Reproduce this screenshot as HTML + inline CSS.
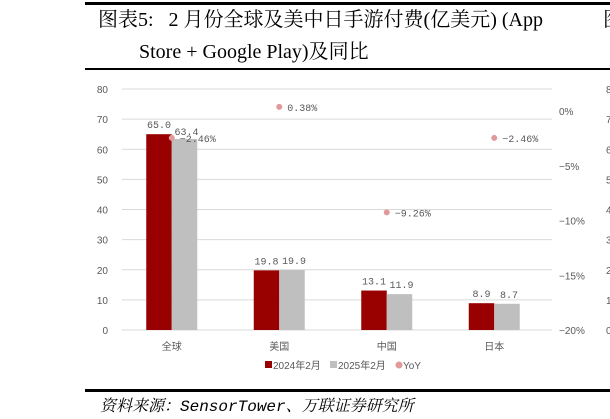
<!DOCTYPE html>
<html><head><meta charset="utf-8"><style>
body{margin:0;width:610px;height:419px;background:#fff;overflow:hidden;position:relative;font-family:"Liberation Serif","Noto Serif CJK SC",serif}
.t{position:absolute;white-space:nowrap}
</style></head><body>
<div style="position:absolute;left:85px;top:2px;width:525px;height:3px;background:#000"></div>
<div class="t" style="left:98px;top:9px;font-size:20px;line-height:22px">图表5:&nbsp;&nbsp;&nbsp;2 月份全球及美中日手游付费(亿美元) (App</div>
<div class="t" style="left:139px;top:41px;font-size:20px;line-height:22px">Store + Google Play)及同比</div>
<div class="t" style="left:603px;top:9px;font-size:20px;line-height:22px">图</div>
<div style="position:absolute;left:85px;top:68px;width:525px;height:2px;background:#000"></div>
<div style="position:absolute;left:85px;top:389px;width:525px;height:3px;background:#000"></div>
<div class="t" style="left:100px;top:393px;font-size:16px;font-style:italic;font-family:'Liberation Mono','Noto Serif CJK SC',serif">资料来源：SensorTower、万联证券研究所</div>
<svg id="c" width="610" height="419" style="position:absolute;left:0;top:0" font-family="Liberation Sans, Noto Sans CJK SC, sans-serif"></svg>
<script>
const categories=["全球","美国","中国","日本"];
const s2024=[65.0,19.8,13.1,8.9];
const s2025=[63.4,19.9,11.9,8.7];
const yoy=[-2.46,0.38,-9.26,-2.46];
const leftTicks=[0,10,20,30,40,50,60,70,80];
const rightTicks=[0,-5,-10,-15,-20];
const svg=document.getElementById('c');const NS='http://www.w3.org/2000/svg';
function el(t,a,p){const e=document.createElementNS(NS,t);for(const k in a)e.setAttribute(k,a[k]);(p||svg).appendChild(e);return e;}
const x0=122,x1=552,yB=330,yT=89;
const yL=v=>yB-(v/80)*(yB-yT);
const yR=v=>yB-((v+20)/20)*(yB-111);
const band=(x1-x0)/categories.length;
const cx=i=>x0+band*(i+0.5)-4;
leftTicks.forEach(v=>{
 const g=el('line',{x1:x0,x2:x1,y1:yL(v),y2:yL(v),stroke:'#d9d9d9','stroke-width':1});
 
 const t=el('text',{x:108,y:yL(v)+4,'text-anchor':'end','font-size':10,fill:'#595959'});t.textContent=v;
 
 const r=el('text',{x:606,y:yL(v)+4,'font-size':10,fill:'#595959'});r.textContent=v;
 
});
rightTicks.forEach(v=>{
 const t=el('text',{x:559,y:yR(v)+4,'font-size':10,fill:'#595959'});t.textContent=(v===0?'0':'−'+(-v))+'%';
 
});
categories.forEach((c,i)=>{
 const bw=25.5;
 const r=el('rect',{x:cx(i)-bw,y:yL(s2024[i]),width:bw,height:yB-yL(s2024[i]),fill:'#990000'});
 
 const g=el('rect',{x:cx(i),y:yL(s2025[i]),width:bw,height:yB-yL(s2025[i]),fill:'#bfbfbf'});
 
 const l1=el('text',{x:cx(i)-bw/2,y:yL(s2024[i])-6,'text-anchor':'middle','font-size':10,fill:'#595959','font-family':'Liberation Mono, monospace'});l1.textContent=s2024[i].toFixed(1);
 
 const l2=el('text',{x:cx(i)+bw/2+2,y:yL(s2025[i])-(i===0?4:6),'text-anchor':'middle','font-size':10,fill:'#595959','font-family':'Liberation Mono, monospace'});l2.textContent=s2025[i].toFixed(1);
 
 const d=el('circle',{cx:cx(i),cy:yR(yoy[i]),r:3,fill:'#e09a9a'});
 
 const dl=el('text',{x:cx(i)+8,y:yR(yoy[i])+4,'font-size':10,fill:'#595959','font-family':'Liberation Mono, monospace'});dl.textContent=(yoy[i]<0?'−'+(-yoy[i]).toFixed(2):yoy[i].toFixed(2))+'%';
 
 const cl=el('text',{x:cx(i),y:350,'text-anchor':'middle','font-size':10,fill:'#595959'});cl.textContent=c;
 
});
const lg=[[265,'#990000','2024年2月','rect'],[330,'#bfbfbf','2025年2月','rect'],[395,'#e09a9a','YoY','circle']];
lg.forEach(([x,col,txt,s])=>{
 const m=s==='rect'?el('rect',{x:x,y:361,width:7,height:7,fill:col}):el('circle',{cx:x+4,cy:365,r:3.5,fill:col});
 
 const t=el('text',{x:x+8,y:369,'font-size':10,fill:'#595959'});t.textContent=txt;
 
});
</script>
</body></html>
